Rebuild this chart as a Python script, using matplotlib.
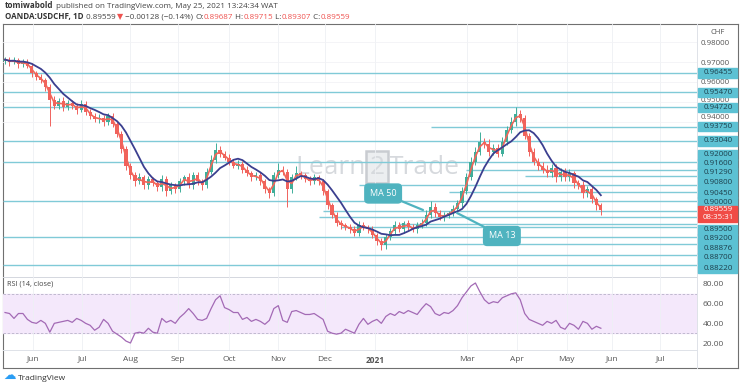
import numpy as np
import pandas as pd
import matplotlib.pyplot as plt
import matplotlib.transforms as mtransforms
from matplotlib.patches import Rectangle
from matplotlib.lines import Line2D

plt.rcParams['font.family'] = ['Open Sans', 'DejaVu Sans']

# 2-day bars, late May 2020 -> 25 May 2021 (OANDA:USDCHF)
close = [
    0.9712, 0.9700, 0.9708, 0.9688, 0.9702, 0.9680, 0.9645, 0.9625, 0.9610, 0.9575,
    0.9510, 0.9480, 0.9505, 0.9475, 0.9495, 0.9480, 0.9460, 0.9490, 0.9450, 0.9430,
    0.9412, 0.9420, 0.9398, 0.9430, 0.9390, 0.9340, 0.9265, 0.9180, 0.9130, 0.9100,
    0.9120, 0.9080, 0.9110, 0.9090, 0.9070, 0.9110, 0.9050, 0.9080, 0.9060, 0.9100,
    0.9120, 0.9080, 0.9130, 0.9100, 0.9080, 0.9150, 0.9210, 0.9260, 0.9240, 0.9220,
    0.9200, 0.9180, 0.9190, 0.9160, 0.9140, 0.9120, 0.9130, 0.9100, 0.9060, 0.9040,
    0.9130, 0.9160, 0.9150, 0.9060, 0.9120, 0.9140, 0.9130, 0.9110, 0.9100, 0.9120,
    0.9100, 0.9050, 0.8980, 0.8930, 0.8890, 0.8880, 0.8870, 0.8860, 0.8840, 0.8880,
    0.8870, 0.8860, 0.8830, 0.8800, 0.8780, 0.8820, 0.8850, 0.8880, 0.8860, 0.8890,
    0.8870, 0.8860, 0.8880, 0.8890, 0.8930, 0.8970, 0.8940, 0.8920, 0.8930, 0.8940,
    0.8960, 0.8990, 0.9050, 0.9120, 0.9200, 0.9250, 0.9300, 0.9290, 0.9250, 0.9270,
    0.9240, 0.9300, 0.9360, 0.9400, 0.9440, 0.9420, 0.9330, 0.9250, 0.9200, 0.9180,
    0.9160, 0.9140, 0.9170, 0.9120, 0.9150, 0.9120, 0.9140, 0.9090, 0.9080, 0.9040,
    0.9060, 0.9010, 0.8980, 0.89559,
]
first_open = 0.9705

# wick lengths in pips
up_wick = [
    15, 12, 18, 10, 14, 12, 16, 10, 14, 12, 15, 20, 12, 18, 14, 16, 12, 20, 15, 12,
    14, 18, 12, 16, 14, 10, 12, 15, 12, 18, 20, 14, 16, 12, 14, 20, 15, 18, 12, 16,
    14, 20, 15, 18, 12, 16, 22, 35, 18, 14, 16, 12, 18, 14, 16, 12, 15, 18, 14, 12,
    20, 33, 18, 12, 16, 40, 14, 12, 16, 18, 12, 14, 10, 12, 16, 14, 12, 18, 14, 22,
    16, 12, 14, 10, 16, 18, 14, 20, 16, 12, 18, 14, 16, 22, 25, 30, 20, 16, 18, 14,
    20, 18, 24, 20, 22, 25, 50, 20, 22, 18, 16, 24, 20, 22, 33, 18, 12, 14, 16, 20,
    18, 22, 16, 20, 18, 16, 22, 14, 18, 20, 16, 18, 14, 12,
]
down_wick = [
    14, 18, 12, 20, 15, 12, 18, 14, 16, 20, 130, 18, 14, 20, 16, 14, 22, 12, 18, 16,
    12, 16, 20, 14, 18, 16, 20, 22, 18, 25, 14, 18, 16, 12, 20, 16, 22, 14, 18, 12,
    18, 14, 20, 16, 22, 12, 14, 16, 18, 14, 16, 12, 18, 20, 14, 18, 14, 16, 20, 22,
    14, 12, 16, 88, 18, 14, 16, 12, 18, 14, 16, 18, 20, 14, 16, 18, 14, 20, 16, 14,
    16, 18, 14, 20, 25, 18, 14, 16, 12, 18, 14, 16, 18, 12, 14, 16, 20, 14, 18, 16,
    14, 12, 16, 14, 12, 18, 16, 22, 20, 18, 16, 14, 18, 16, 20, 22, 18, 20, 16, 24,
    18, 20, 16, 22, 18, 20, 16, 24, 18, 22, 18, 20, 22, 26,
]

rsi = [
    51, 50, 45, 50, 50, 44, 41, 40, 43, 40, 31, 40, 41, 42, 43, 41, 45, 43, 40, 38,
    33, 36, 44, 40, 32, 29, 26, 22, 20, 30, 31, 30, 35, 31, 30, 45, 41, 43, 40, 46,
    50, 55, 50, 44, 43, 45, 55, 64, 68, 56, 54, 51, 51, 44, 46, 42, 44, 42, 39, 43,
    55, 58, 43, 41, 52, 53, 51, 49, 49, 50, 47, 44, 32, 30, 29, 30, 34, 32, 30, 39,
    45, 39, 42, 44, 40, 47, 50, 48, 52, 50, 53, 51, 49, 55, 60, 57, 50, 48, 51, 50,
    53, 58, 66, 72, 78, 81, 72, 64, 60, 62, 61, 66, 68, 70, 71, 64, 50, 44, 42, 40,
    38, 42, 40, 43, 36, 34, 40, 38, 34, 42, 40, 34, 37, 35,
]

month_pos = [6.25, 17.2, 27.9, 38.6, 50.0, 60.9, 71.4, 82.6, 103.1, 114.3, 125.4, 135.5, 146.2]
month_labels = ['Jun', 'Jul', 'Aug', 'Sep', 'Oct', 'Nov', 'Dec', '2021', 'Mar', 'Apr', 'May', 'Jun', 'Jul']

# horizontal support / resistance lines and the bar where each begins (-1 = whole chart)
levels = [0.96455, 0.9547, 0.9472, 0.9375, 0.9304, 0.92, 0.916, 0.9129, 0.908, 0.9045,
          0.90, 0.895, 0.892, 0.88876, 0.887, 0.8822, 0.8786, 0.8731, 0.868]
level_start = [-1, -1, -1, 95, -1, -1, 103, 116, 79, 99, -1, 71, 70, 88, 75, -1, 84, 79, -1]

# price-scale tags (stacked where they collide)
tag_text = ['0.96455', '0.95470', '0.94720', '0.93750', '0.93040', '0.92000', '0.91600',
            '0.91290', '0.90800', '0.90450', '0.90000', '0.89500', '0.89200', '0.88876',
            '0.88700', '0.88220']
tag_pos = [0.96455, 0.9547, 0.9472, 0.9375, 0.9304, 0.92329, 0.91877, 0.91425, 0.90923,
           0.90420, 0.89968, 0.88562, 0.88110, 0.87608, 0.87156, 0.86653]
last_price = 0.89559
last_tag_pos = 0.89366
countdown = '08:35:31'

price_ticks = [0.94, 0.95, 0.96, 0.97, 0.98]
rsi_ticks = [20, 40, 60, 80]

W, H = 740, 389
UP, DOWN = '#3fae9a', '#f0625d'
LINE = '#80cad7'
TAG = '#5cc1d3'
TEAL = '#4fb3bf'
RED = '#ef5350'


def fig_rect(left, top, right, bottom):
    return [left / W, 1 - bottom / H, (right - left) / W, (bottom - top) / H]


def chain_text(ax, pieces, xy, size):
    prev = None
    for text, color, weight in pieces:
        if prev is None:
            prev = ax.annotate(text, xy=xy, xycoords='figure pixels', fontsize=size,
                               color=color, weight=weight, ha='left', va='bottom')
        else:
            prev = ax.annotate(text, xy=(1, 0), xycoords=prev, fontsize=size,
                               color=color, weight=weight, ha='left', va='bottom')


def draw_header(ax):
    chain_text(ax, [('tomiwabold', '#333333', 'bold'),
                    (' published on TradingView.com, May 25, 2021 13:24:34 WAT', '#444444', 'normal')],
               (5, 379), 5.8)
    chain_text(ax, [('OANDA:USDCHF, 1D', '#333333', 'bold'),
                    (' 0.89559 ', '#444444', 'normal'), ('▼', RED, 'normal'),
                    (' −0.00128 (−0.14%) ', '#444444', 'normal'),
                    ('O:', '#444444', 'normal'), ('0.89687', RED, 'normal'),
                    (' H:', '#444444', 'normal'), ('0.89715', RED, 'normal'),
                    (' L:', '#444444', 'normal'), ('0.89307', RED, 'normal'),
                    (' C:', '#444444', 'normal'), ('0.89559', RED, 'normal')],
               (5, 368), 5.8)


def draw_price_panel(ax, fig, x, o, c, hi, lo):
    xmin, xmax = -0.45, 154.46
    cols = np.where(c >= o, UP, DOWN)

    for lev, start in zip(levels, level_start):
        ax.hlines(lev, xmin if start < 0 else start, xmax, color=LINE, lw=1.0, zorder=2)

    ax.vlines(x, lo, hi, colors=cols, lw=0.7, zorder=3)
    ax.bar(x, np.maximum(np.abs(c - o), 0.0002), bottom=np.minimum(o, c), width=0.7,
           color=cols, zorder=3)

    fast = pd.Series(c).rolling(2, min_periods=1).mean()
    slow = pd.Series(c).rolling(7, min_periods=1).mean()
    ax.plot(x, fast, color='#f2665a', lw=1.2, zorder=4)
    ax.plot(x, slow, color='#3b3f8f', lw=1.3, zorder=4)

    ax.set_xlim(xmin, xmax)
    ax.set_ylim(0.86201, 0.98909)
    ax.set_facecolor('none')
    ax.set_xticks(month_pos)
    ax.tick_params(axis='x', length=0, labelbottom=False)
    ax.grid(axis='x', color='#eef0f4', lw=0.6, zorder=0)
    ax.grid(axis='y', color='#f2f3f6', lw=0.6, zorder=0)

    ax.yaxis.tick_right()
    ax.set_yticks(price_ticks)
    ax.set_yticklabels([f'{v:.5f}' for v in price_ticks])
    ax.tick_params(axis='y', length=0, pad=2.5, labelsize=5.7, labelcolor='#555555')
    # nudge the two scale labels that sit right above a tag, as the price scale does
    for lab, dy in zip(ax.get_yticklabels()[:2], (3.5, 1.5)):
        lab.set_transform(lab.get_transform() +
                          mtransforms.ScaledTranslation(0, dy / 72, fig.dpi_scale_trans))
    for side in ('top', 'left'):
        ax.spines[side].set_visible(False)
    ax.spines['right'].set_color('#dfe2e8')
    ax.spines['bottom'].set_color('#d4d7de')
    ax.spines['right'].set_linewidth(0.7)
    ax.spines['bottom'].set_linewidth(0.7)

    tr = mtransforms.blended_transform_factory(ax.transAxes, ax.transData)
    h = 9.4 / 1991
    for t, p in zip(tag_text, tag_pos):
        ax.add_patch(Rectangle((1.0014, p - h / 2), 0.0562, h, transform=tr, color=TAG,
                               clip_on=False, zorder=5))
        ax.text(1.0303, p, t, transform=tr, ha='center', va='center', fontsize=5.7,
                color='#1d3f4c', clip_on=False, zorder=6)
    hr = 16 / 1991
    ax.add_patch(Rectangle((1.0014, last_tag_pos - hr / 2), 0.0562, hr, transform=tr,
                           color='#f04b46', clip_on=False, zorder=5))
    ax.text(1.0303, last_tag_pos + hr / 4, f'{last_price:.5f}', transform=tr, ha='center',
            va='center', fontsize=5.7, color='white', clip_on=False, zorder=6)
    ax.text(1.0303, last_tag_pos - hr / 4, countdown, transform=tr, ha='center',
            va='center', fontsize=5.7, color='white', clip_on=False, zorder=6)
    ax.text(1.0303, 0.98457, 'CHF', transform=tr, ha='center', va='center', fontsize=5.5,
            color='#555555', clip_on=False)

    # watermark
    wm = dict(fontsize=19, color='#d6d9dd', va='center', zorder=1)
    ax.text(80.6, 0.91726, 'Learn', ha='right', **wm)
    ax.text(83.0, 0.91726, '2', ha='center',
            bbox=dict(boxstyle='square,pad=0.12', fc='#eceef0', ec='#c9ccd1', lw=1.8), **wm)
    ax.text(85.7, 0.91726, 'Trade', ha='left', **wm)

    # callouts
    box = dict(boxstyle='round,pad=0.55,rounding_size=0.4', fc=TEAL, ec=TEAL)
    arrow = dict(arrowstyle='-', color=TEAL, lw=1.6, shrinkA=0, shrinkB=0)
    ax.annotate('MA 50', xy=(93.3, 0.89567), xytext=(84.4, 0.90395), ha='center',
                va='center', fontsize=6.5, color='white', bbox=box, arrowprops=arrow, zorder=7)
    ax.annotate('MA 13', xy=(100.9, 0.89416), xytext=(110.9, 0.88261), ha='center',
                va='center', fontsize=6.5, color='white', bbox=box, arrowprops=arrow, zorder=7)


def draw_rsi_panel(ax, x):
    xmin, xmax = -0.45, 154.46
    ax.fill_between([xmin, xmax], 30, 70, color='#f4e8fb', zorder=0)
    for lev in (30, 70):
        ax.axhline(lev, color='#b8b2c8', lw=0.6, ls=(0, (3, 2)), zorder=1)
    ax.plot(x, rsi, color='#a36ab5', lw=0.9, zorder=3)
    ax.set_xlim(xmin, xmax)
    ax.set_ylim(12.9, 87.1)
    ax.set_facecolor('none')
    ax.text(0.006, 0.904, 'RSI (14, close)', transform=ax.transAxes, fontsize=5.2,
            color='#444444', va='center')

    ax.set_xticks(month_pos)
    ax.set_xticklabels(month_labels)
    for lab in ax.get_xticklabels():
        if lab.get_text() == '2021':
            lab.set_fontweight('bold')
    ax.tick_params(axis='x', length=0, pad=4, labelsize=6, labelcolor='#555555')
    ax.grid(axis='x', color='#eef0f4', lw=0.6, zorder=0)

    ax.yaxis.tick_right()
    ax.set_yticks(rsi_ticks)
    ax.set_yticklabels([f'{v:.2f}' for v in rsi_ticks])
    ax.tick_params(axis='y', length=0, pad=4, labelsize=6, labelcolor='#555555')
    for side in ('top', 'left'):
        ax.spines[side].set_visible(False)
    for side in ('right', 'bottom'):
        ax.spines[side].set_color('#dfe2e8')
        ax.spines[side].set_linewidth(0.7)


def main():
    c = np.array(close)
    o = np.r_[first_open, c[:-1]]
    hi = np.maximum(o, c) + np.array(up_wick) * 1e-4
    lo = np.minimum(o, c) - np.array(down_wick) * 1e-4
    x = np.arange(len(c))

    fig = plt.figure(figsize=(W / 100, H / 100), dpi=100, facecolor='white')

    frame = fig.add_axes(fig_rect(3, 24, 738, 368))
    frame.set_xticks([])
    frame.set_yticks([])
    for s in frame.spines.values():
        s.set_color('#707070')
        s.set_linewidth(0.8)

    ax = fig.add_axes(fig_rect(3, 24, 697, 277))
    rax = fig.add_axes(fig_rect(3, 277, 697, 350))
    draw_price_panel(ax, fig, x, o, c, hi, lo)
    draw_rsi_panel(rax, x)
    fig.add_artist(Line2D([697 / W, 697 / W], [1 - 368 / H, 1 - 350 / H],
                          color='#dfe2e8', lw=0.7))

    draw_header(frame)
    fig.text(3 / W, 1 - 379 / H, '☁', fontsize=9, color='#2a9df4', va='baseline')
    fig.text(18 / W, 1 - 378 / H, 'TradingView', fontsize=6, color='#333333', va='center')

    fig.savefig('out.png', dpi=100, facecolor='white')


if __name__ == '__main__':
    main()
